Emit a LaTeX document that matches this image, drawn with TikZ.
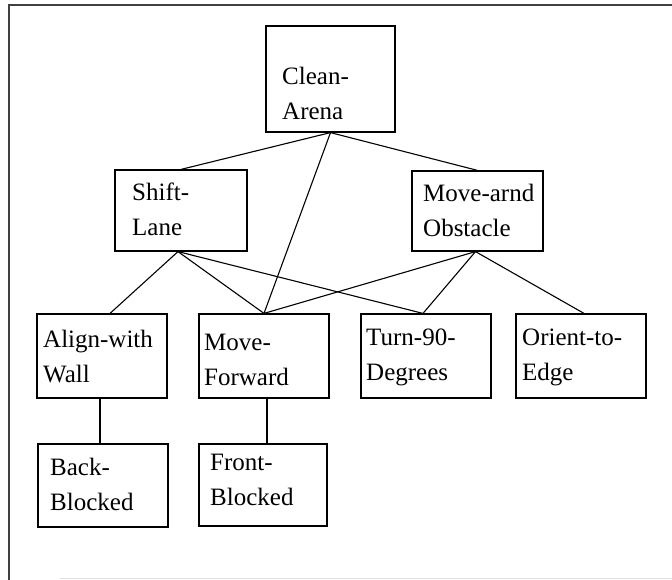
\documentclass[tikz,border=0pt]{standalone}
\usepackage{fontspec}
\setmainfont{Liberation Serif}
\begin{document}
\begin{tikzpicture}[x=1pt,y=-1pt,
  box/.style={draw, line width=1.2pt, rectangle, inner sep=0pt,
              minimum width=130pt, minimum height=84pt},
  txt/.style={anchor=base west, inner sep=0pt, text width=128pt, align=left,
              font=\fontsize{25}{35}\selectfont},
  edge/.style={line width=1.1pt},
  frame/.style={line width=1.6pt, black!75}]
\useasboundingbox (0,0) rectangle (672,580);

% frame around the hierarchy
\coordinate (ftl) at (9,5);
\coordinate (ftr) at (672,5);
\coordinate (fbl) at (9,580);
\coordinate (fbr) at (672,578.5);
\coordinate (fbs) at (60,578.5);
\draw[frame] (fbl) -- (ftl) -- (ftr);
\draw[line width=1pt, black!12] (fbs) -- (fbr);

% behaviour boxes
\node[box, minimum width=129pt, minimum height=106pt] (clean) at (330.5,79) {};
\node[box, minimum width=132pt, minimum height=81pt] (shift) at (181,210.5) {};
\node[box, minimum width=131pt, minimum height=80pt] (movearnd) at (477.5,211) {};
\node[box] (align) at (102,356) {};
\node[box] (movefwd) at (264,356) {};
\node[box] (turn) at (426,356) {};
\node[box] (orient) at (581,356) {};
\node[box, minimum height=83pt] (back) at (103,485.5) {};
\node[box, minimum width=128pt, minimum height=82pt] (front) at (263,485) {};

% box labels
\node[txt] (cleanT) at (282,85) {Clean-\\Arena};
\node[txt] (shiftT) at (132,201) {Shift-\\Lane};
\node[txt] (movearndT) at (423,202) {Move-arnd\\Obstacle};
\node[txt] (alignT) at (43,347) {Align-with\\Wall};
\node[txt] (movefwdT) at (204,350) {Move-\\Forward};
\node[txt] (turnT) at (366,345) {Turn-90-\\Degrees};
\node[txt] (orientT) at (522,345) {Orient-to-\\Edge};
\node[txt] (backT) at (50,475) {Back-\\Blocked};
\node[txt] (frontT) at (210,470) {Front-\\Blocked};

% connections
\draw[edge] (clean.south) -- (shift.north);
\draw[edge] (clean.south) -- (movearnd.north);
\draw[edge] (clean.south) -- (movefwd.north);
\draw[edge] ([xshift=-3pt]shift.south) -- ([xshift=8pt]align.north);
\draw[edge] ([xshift=-3pt]shift.south) -- (movefwd.north);
\draw[edge] ([xshift=-3pt]shift.south) -- ([xshift=-3pt]turn.north);
\draw[edge] ([xshift=-2pt]movearnd.south) -- (movefwd.north);
\draw[edge] ([xshift=-2pt]movearnd.south) -- ([xshift=-3pt]turn.north);
\draw[edge] ([xshift=-2pt]movearnd.south) -- ([xshift=3pt]orient.north);
\draw[edge] ([xshift=-2pt]align.south) -- ([xshift=-3pt]back.north);
\draw[edge] ([xshift=3pt]movefwd.south) -- ([xshift=4pt]front.north);
\end{tikzpicture}
\end{document}
